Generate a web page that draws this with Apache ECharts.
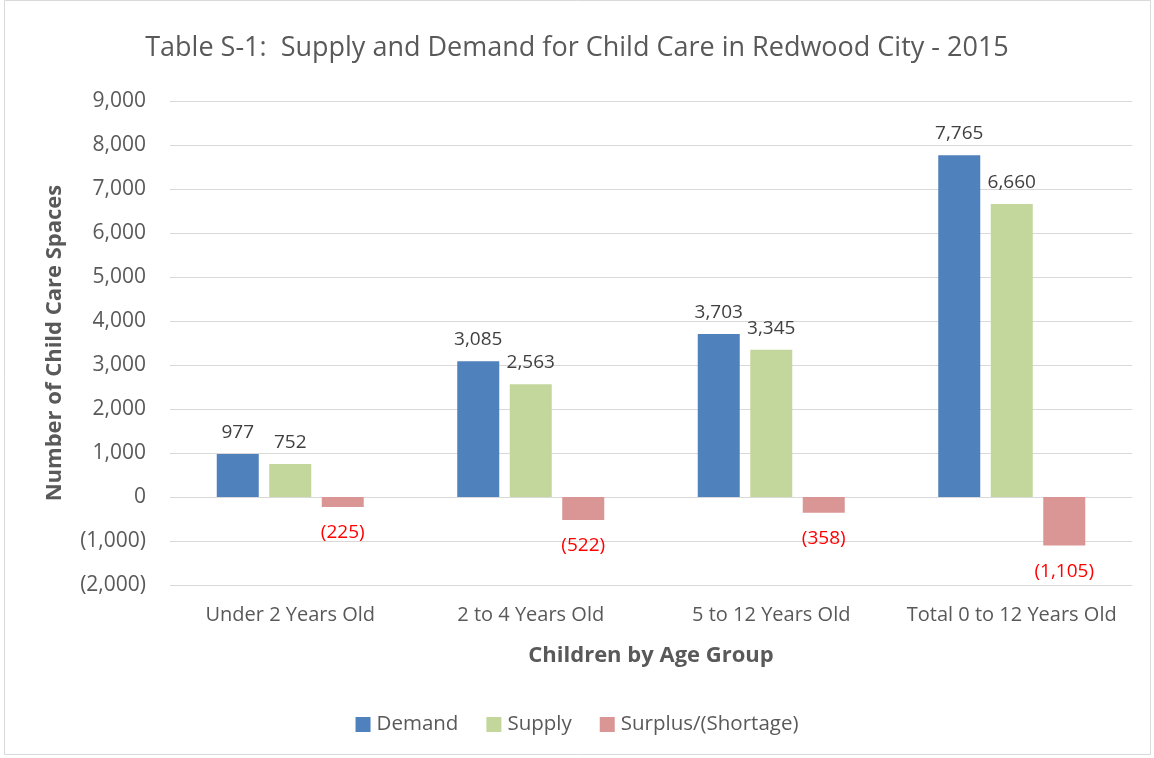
<!DOCTYPE html>
<html>
<head>
<meta charset="utf-8">
<script src="https://cdn.jsdelivr.net/npm/echarts@6/dist/echarts.min.js"></script>
<style>
  html, body { margin: 0; padding: 0; background: #fff; }
  #main { width: 1154px; height: 758px; }
</style>
</head>
<body>
<div id="main"></div>
<script>
// categories and values
var categories = ['Under 2 Years Old', '2 to 4 Years Old', '5 to 12 Years Old', 'Total 0 to 12 Years Old'];
var demand = [977, 3085, 3703, 7765];
var supply = [752, 2563, 3345, 6660];
var surplus = [-225, -522, -358, -1105];

var font = 'Open Sans';

function fmt(v) {
  var s = Math.abs(v).toLocaleString('en-US');
  return v < 0 ? '(' + s + ')' : s;
}

var chart = echarts.init(document.getElementById('main'));

chart.setOption({
  textStyle: { fontFamily: font },
  graphic: [{
    type: 'rect',
    shape: { x: 4.5, y: 0.5, width: 1146, height: 754 },
    style: { fill: 'none', stroke: '#d9d9d9', lineWidth: 1 },
    silent: true
  }],
  title: {
    text: 'Table S-1:  Supply and Demand for Child Care in Redwood City - 2015',
    left: 'center',
    top: 30,
    textStyle: { fontFamily: font, fontSize: 27, fontWeight: 'normal', color: '#595959' }
  },
  legend: {
    bottom: 18,
    left: 'center',
    itemWidth: 15,
    itemHeight: 15,
    itemGap: 28,
    icon: 'rect',
    textStyle: { fontFamily: font, fontSize: 20.5, color: '#595959', padding: [0, 0, 0, 1] },
    data: ['Demand', 'Supply', 'Surplus/(Shortage)']
  },
  grid: { left: 170, right: 22, top: 101, bottom: 173 },
  xAxis: {
    type: 'category',
    data: categories,
    name: 'Children by Age Group',
    nameLocation: 'middle',
    nameGap: 60,
    nameTextStyle: { fontFamily: font, fontSize: 22, fontWeight: 'bold', color: '#595959' },
    axisLine: { show: false },
    axisTick: { show: false },
    axisLabel: { fontSize: 20, color: '#595959', margin: 20, interval: 0 }
  },
  yAxis: {
    type: 'value',
    min: -2000,
    max: 9000,
    interval: 1000,
    name: 'Number of Child Care Spaces',
    nameLocation: 'middle',
    nameGap: 104,
    nameTextStyle: { fontFamily: font, fontSize: 22, fontWeight: 'bold', color: '#595959' },
    axisLabel: { fontSize: 21, color: '#595959', margin: 24, formatter: fmt },
    axisLine: { show: false },
    axisTick: { show: false },
    splitLine: { lineStyle: { color: '#d9d9d9', width: 1 } }
  },
  series: [{
    name: 'Demand',
    type: 'bar',
    data: demand,
    barWidth: 42,
    barGap: '25%',
    itemStyle: { color: '#4f81bd' },
    label: { show: true, position: 'top', distance: 12, fontSize: 19, color: '#404040', formatter: function (p) { return fmt(p.value); } }
  }, {
    name: 'Supply',
    type: 'bar',
    data: supply,
    barWidth: 42,
    barGap: '25%',
    itemStyle: { color: '#c3d69b' },
    label: { show: true, position: 'top', distance: 12, fontSize: 19, color: '#404040', formatter: function (p) { return fmt(p.value); } }
  }, {
    name: 'Surplus/(Shortage)',
    type: 'bar',
    data: surplus,
    barWidth: 42,
    barGap: '25%',
    itemStyle: { color: '#d99694' },
    label: { show: true, position: 'bottom', distance: 16, fontSize: 19, color: '#ff0000', formatter: function (p) { return fmt(p.value); } }
  }]
});
</script>
</body>
</html>
